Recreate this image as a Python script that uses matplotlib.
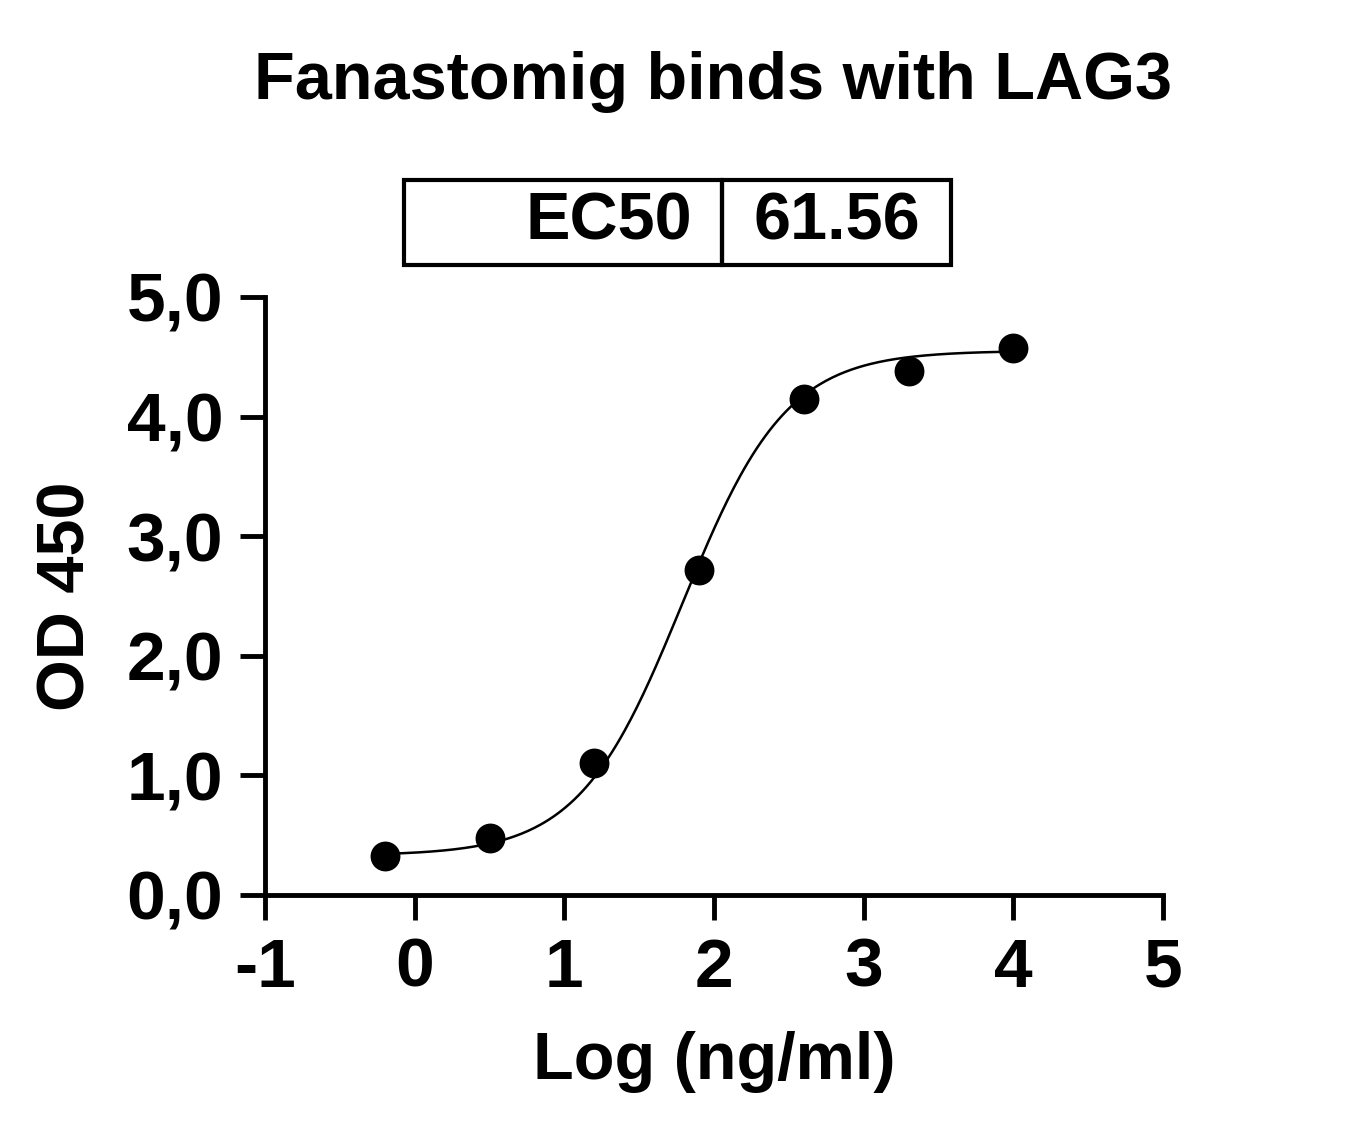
import numpy as np
import matplotlib
matplotlib.use("Agg")
import matplotlib.pyplot as plt
from matplotlib.patches import Rectangle

log_conc = [-0.2, 0.5, 1.2, 1.9, 2.6, 3.3, 4.0]
od450 = [0.33, 0.48, 1.10, 2.72, 4.15, 4.38, 4.57]
ec50 = 61.56
fit_bottom, fit_top, fit_hill = 0.33, 4.55, 1.25
x_ticks = [-1, 0, 1, 2, 3, 4, 5]
y_ticks = [0, 1, 2, 3, 4, 5]

plt.rcParams['font.family'] = ['Liberation Sans', 'DejaVu Sans']
plt.rcParams['font.weight'] = 'bold'

fig = plt.figure(figsize=(13.62, 11.42), dpi=100)
ax = fig.add_axes([0.1946, 0.2163, 0.8539 - 0.1946, 0.74 - 0.2163])

xs = np.linspace(min(log_conc), max(log_conc), 300)
ys = fit_bottom + (fit_top - fit_bottom) / (1 + 10 ** ((np.log10(ec50) - xs) * fit_hill))
ax.plot(xs, ys, color='black', lw=1.8)
ax.scatter(log_conc, od450, s=420, color='black', zorder=3)

ax.set_xlim(-1, 5)
ax.set_ylim(0, 5)
ax.set_xticks(x_ticks)
ax.set_xticklabels([str(t) for t in x_ticks])
ax.set_yticks(y_ticks)
ax.set_yticklabels([f"{t},0" for t in y_ticks])
for s in ['top', 'right']:
    ax.spines[s].set_visible(False)
for s in ['left', 'bottom']:
    ax.spines[s].set_linewidth(3.5)
ax.tick_params(length=18, width=3.5, labelsize=50, pad=12)
for lab in ax.get_xticklabels() + ax.get_yticklabels():
    lab.set_fontweight('bold')
ax.set_xlabel('Log (ng/ml)', fontsize=48, fontweight='bold', labelpad=22)
ax.set_ylabel('OD 450', fontsize=48, fontweight='bold', labelpad=20)

fig.text(0.5235, 1 - 82 / 1142, 'Fanastomig binds with LAG3', ha='center', va='center',
         fontsize=48, fontweight='bold')

# EC50 table
W, H = 1362, 1142
x0, x1, x2 = 404, 722, 951
yt, yb = 180, 265
for a, b in [(x0, x1), (x1, x2)]:
    fig.patches.append(Rectangle((a / W, 1 - yb / H), (b - a) / W, (yb - yt) / H,
                                 transform=fig.transFigure, fill=False, lw=3, ec='black'))
ymid = 1 - (yt + yb) / 2 / H
fig.text(692 / W, ymid, 'EC50', ha='right', va='center', fontsize=48, fontweight='bold')
fig.text((x1 + x2) / 2 / W, ymid, f'{ec50:.2f}', ha='center', va='center', fontsize=48, fontweight='bold')

fig.savefig('out.png', dpi=100)
